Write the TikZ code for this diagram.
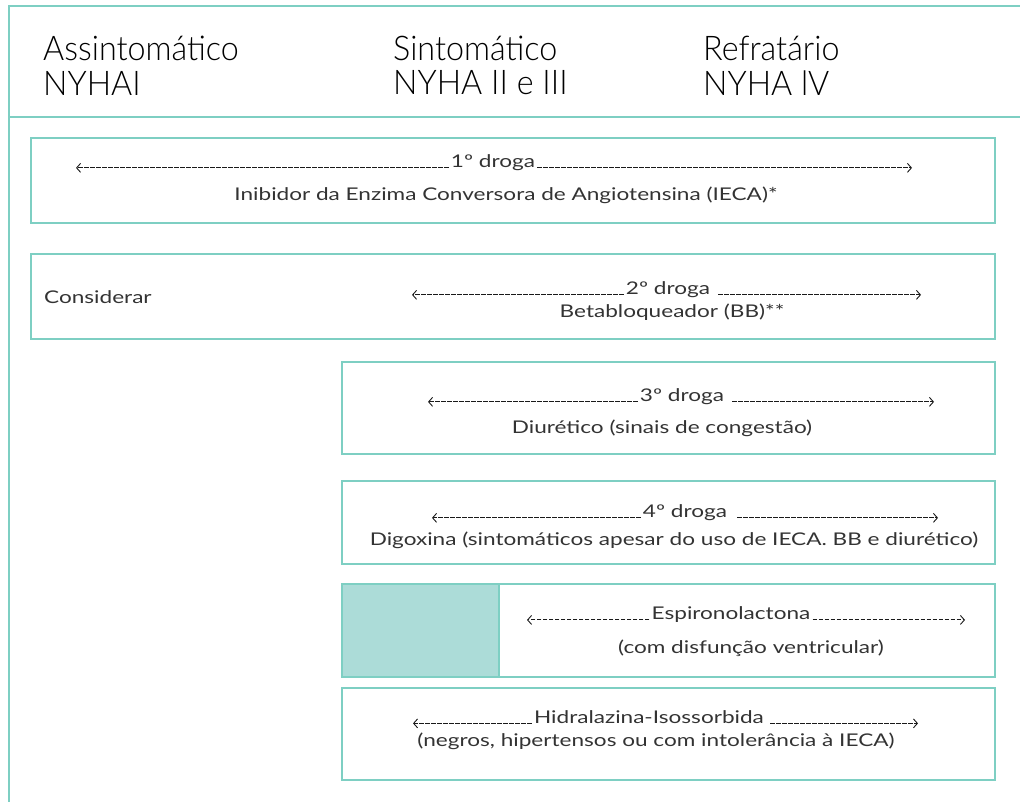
\documentclass[tikz,border=0pt]{standalone}
\usepackage{fontspec}
\setmainfont{Lato}[FakeStretch=1.29]
\newfontfamily\hdfont{Lato}[UprightFont=* Light, FakeStretch=0.95]
\usetikzlibrary{arrows.meta}
\definecolor{teal}{HTML}{7ECFC3}
\definecolor{tealfill}{HTML}{ACDCD8}
\definecolor{txt}{HTML}{333333}
\definecolor{dash}{HTML}{1A1A1A}
\tikzset{
  frame/.style={draw=teal, line width=2pt},
  box/.style={draw=teal, line width=1.6pt},
  hd/.style={anchor=west, inner sep=0pt, font=\hdfont\fontsize{34}{34}\selectfont, text=black},
  lbl/.style={inner sep=2pt, font=\fontsize{17.5}{17.5}\selectfont, text=txt},
  sub/.style={inner sep=0pt, font=\fontsize{17.5}{17.5}\selectfont, text=txt},
  darr/.style={draw=dash, line width=1.1pt, dash pattern=on 4.5pt off 1.5pt, -{Straight Barb[length=4pt,width=9pt,line width=0.9pt]}}
}
\begin{document}
\begin{tikzpicture}[x=1pt,y=-1pt]
\useasboundingbox (0,0) rectangle (1020,802);
% outer frame
\draw[frame] (1020,6) -- (9,6) -- (9,802);
\draw[frame] (9,117) -- (1020,117);
% header
\node[hd] (h1a) at (43,48) {Assintomático};
\node[hd] (h1b) at (43,83) {NYHAI};
\node[hd] (h2a) at (393,48) {Sintomático};
\node[hd] (h2b) at (393,83) {NYHA II e III};
\node[hd] (h3a) at (703,48) {Refratário};
\node[hd] (h3b) at (703,83) {NYHA lV};
% boxes
\draw[box] (31,138) rectangle (995,223);
\draw[box] (31,254) rectangle (995,339);
\draw[box] (342,362) rectangle (995,454);
\draw[box] (342,481) rectangle (995,564);
\draw[box, fill=tealfill] (342,584) rectangle (499,677);
\draw[box] (499,584) rectangle (995,677);
\draw[box] (342,688) rectangle (995,780);
% box 1
\node[lbl] (d1) at (493,163) {1º droga};
\node[sub] (s1) at (506,195) {Inibidor da Enzima Conversora de Angiotensina (IECA)*};
\coordinate (d1l) at (76,0);
\coordinate (d1r) at (912,0);
\draw[darr] (d1.base west) -- (d1.base west -| d1l);
\draw[darr] (d1.base east) -- (d1.base east -| d1r);
% box 2
\node[sub, anchor=west] (c2) at (44,297) {Considerar};
\node[lbl] (d2) at (668,290) {2º droga};
\node[sub] (s2) at (672,312) {Betabloqueador (BB)**};
\coordinate (d2l) at (412,0);
\coordinate (d2r) at (921,0);
\draw[darr] (d2.base west) -- (d2.base west -| d2l);
\draw[darr] ([xshift=6pt]d2.base east) -- (d2.base east -| d2r);
% box 3
\node[lbl] (d3) at (682,397) {3º droga};
\node[sub] (s3) at (662,428) {Diurético (sinais de congestão)};
\coordinate (d3l) at (428,0);
\coordinate (d3r) at (934,0);
\draw[darr] (d3.base west) -- (d3.base west -| d3l);
\draw[darr] ([xshift=6pt]d3.base east) -- (d3.base east -| d3r);
% box 4
\node[lbl] (d4) at (685,513) {4º droga};
\node[sub] (s4) at (674,540) {Digoxina (sintomáticos apesar do uso de IECA. BB e diurético)};
\coordinate (d4l) at (432,0);
\coordinate (d4r) at (938,0);
\draw[darr] (d4.base west) -- (d4.base west -| d4l);
\draw[darr] ([xshift=8pt]d4.base east) -- (d4.base east -| d4r);
% box 5
\node[lbl] (d5) at (731,615) {Espironolactona};
\node[sub] (s5) at (751,648) {(com disfunção ventricular)};
\coordinate (d5l) at (527,0);
\coordinate (d5r) at (965,0);
\draw[darr] (d5.base west) -- (d5.base west -| d5l);
\draw[darr] (d5.base east) -- (d5.base east -| d5r);
% box 6
\node[lbl] (d6) at (649,717) {Hidralazina-Isossorbida};
\node[sub] (s6) at (656,741) {(negros, hipertensos ou com intolerância à IECA)};
\coordinate (d6l) at (413,0);
\coordinate (d6r) at (918,0);
\draw[darr] (d6.base west) -- (d6.base west -| d6l);
\draw[darr] ([xshift=4pt]d6.base east) -- (d6.base east -| d6r);
\end{tikzpicture}
\end{document}
